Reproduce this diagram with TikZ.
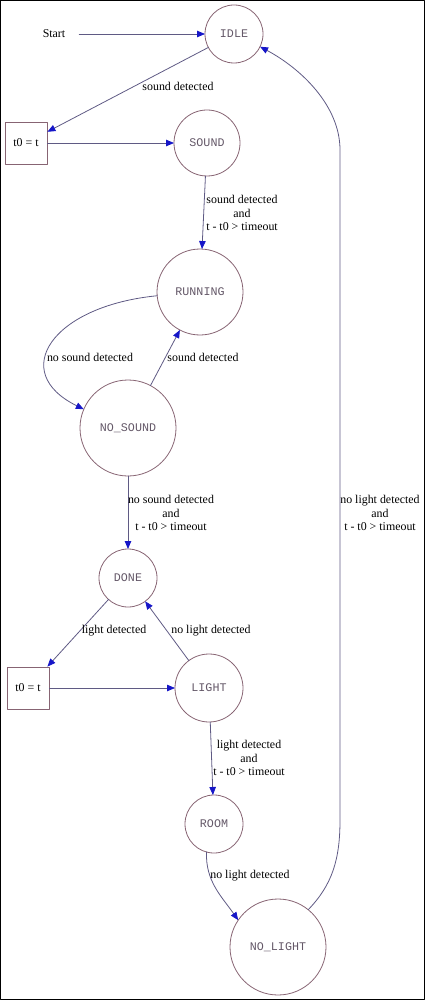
\documentclass[tikz,border=0pt]{standalone}
\usepackage{fontspec}
\setmainfont{Liberation Serif}
\newfontfamily\statefont{Liberation Mono}
\usetikzlibrary{arrows.meta}
\definecolor{nodeline}{RGB}{135,100,115}
\definecolor{edgeline}{RGB}{95,90,132}
\definecolor{arrowblue}{RGB}{22,22,200}
\definecolor{statetext}{RGB}{100,88,104}

\begin{document}
\begin{tikzpicture}[x=1pt,y=-1pt,line cap=round,line join=round,
    state/.style={circle, draw=nodeline, line width=0.8pt, inner sep=0pt, outer sep=0pt,
        text=statetext, font=\statefont\fontsize{11.7}{13}\selectfont},
    setbox/.style={rectangle, draw=nodeline, line width=0.8pt, minimum size=42, inner sep=0pt,
        font=\fontsize{11.9}{13.5}\selectfont},
    edge/.style={draw=edgeline, line width=0.8pt, -{Triangle[length=8pt,width=6.5pt,color=arrowblue]}},
    lbl/.style={align=center, inner sep=0pt, font=\fontsize{11.9}{13.5}\selectfont}]
    \useasboundingbox (0,0) rectangle (425,1000);
    \draw[line width=1.2pt] (0.6,0.6) rectangle (424.4,999.4);

    % states
    \node[minimum width=50, inner sep=0pt, font=\fontsize{11.9}{13.5}\selectfont] (start) at (54,34) {Start};
    \node[state, minimum size=58] (idle) at (234,34) {IDLE};
    \node[setbox] (set1) at (26,143) {t0 = t};
    \node[state, minimum size=66] (sound) at (207,143) {SOUND};
    \node[state, minimum size=86] (running) at (200,292) {RUNNING};
    \node[state, minimum size=96] (nosound) at (128,428) {NO\_SOUND};
    \node[state, minimum size=58] (done) at (128,578) {DONE};
    \node[setbox] (set2) at (28,688) {t0 = t};
    \node[state, minimum size=68] (light) at (209,688) {LIGHT};
    \node[state, minimum size=58] (room) at (214,824) {ROOM};
    \node[state, minimum size=96] (nolight) at (278,947) {NO\_LIGHT};

    % transitions
    \draw[edge] (start) -- (idle);
    \draw[edge] (idle) -- (set1);
    \draw[edge] (set1) -- (sound);
    \draw[edge] (sound) -- (running);
    \draw[edge] (running.185) .. controls (52,306) and (8,372) .. (nosound.157);
    \draw[edge] (nosound) -- (running);
    \draw[edge] (nosound) -- (done);
    \draw[edge] (done) -- (set2);
    \draw[edge] (set2) -- (light);
    \draw[edge] (light) -- (done);
    \draw[edge] (light) -- (room);
    \draw[edge] (room.-105) to[out=-92, in=125] (nolight.146);
    \draw[edge] (nolight.51) .. controls (332,885) and (340,860) .. (340,820)
        -- (340,150) .. controls (340,105) and (300,68) .. (idle.-26);

    % labels
    \node[lbl] at (178,86) {sound detected};
    \node[lbl] at (242,213) {sound detected\\and\\t - t0 > timeout};
    \node[lbl] at (90,357) {no sound detected};
    \node[lbl] at (203,357) {sound detected};
    \node[lbl] at (171,513) {no sound detected\\and\\t - t0 > timeout};
    \node[lbl] at (114,631) {light detected};
    \node[lbl] at (211,631) {no light detected};
    \node[lbl] at (249,758) {light detected\\and\\t - t0 > timeout};
    \node[lbl] at (250,876) {no light detected};
    \node[lbl] at (380,513) {no light detected\\and\\t - t0 > timeout};
\end{tikzpicture}
\end{document}
